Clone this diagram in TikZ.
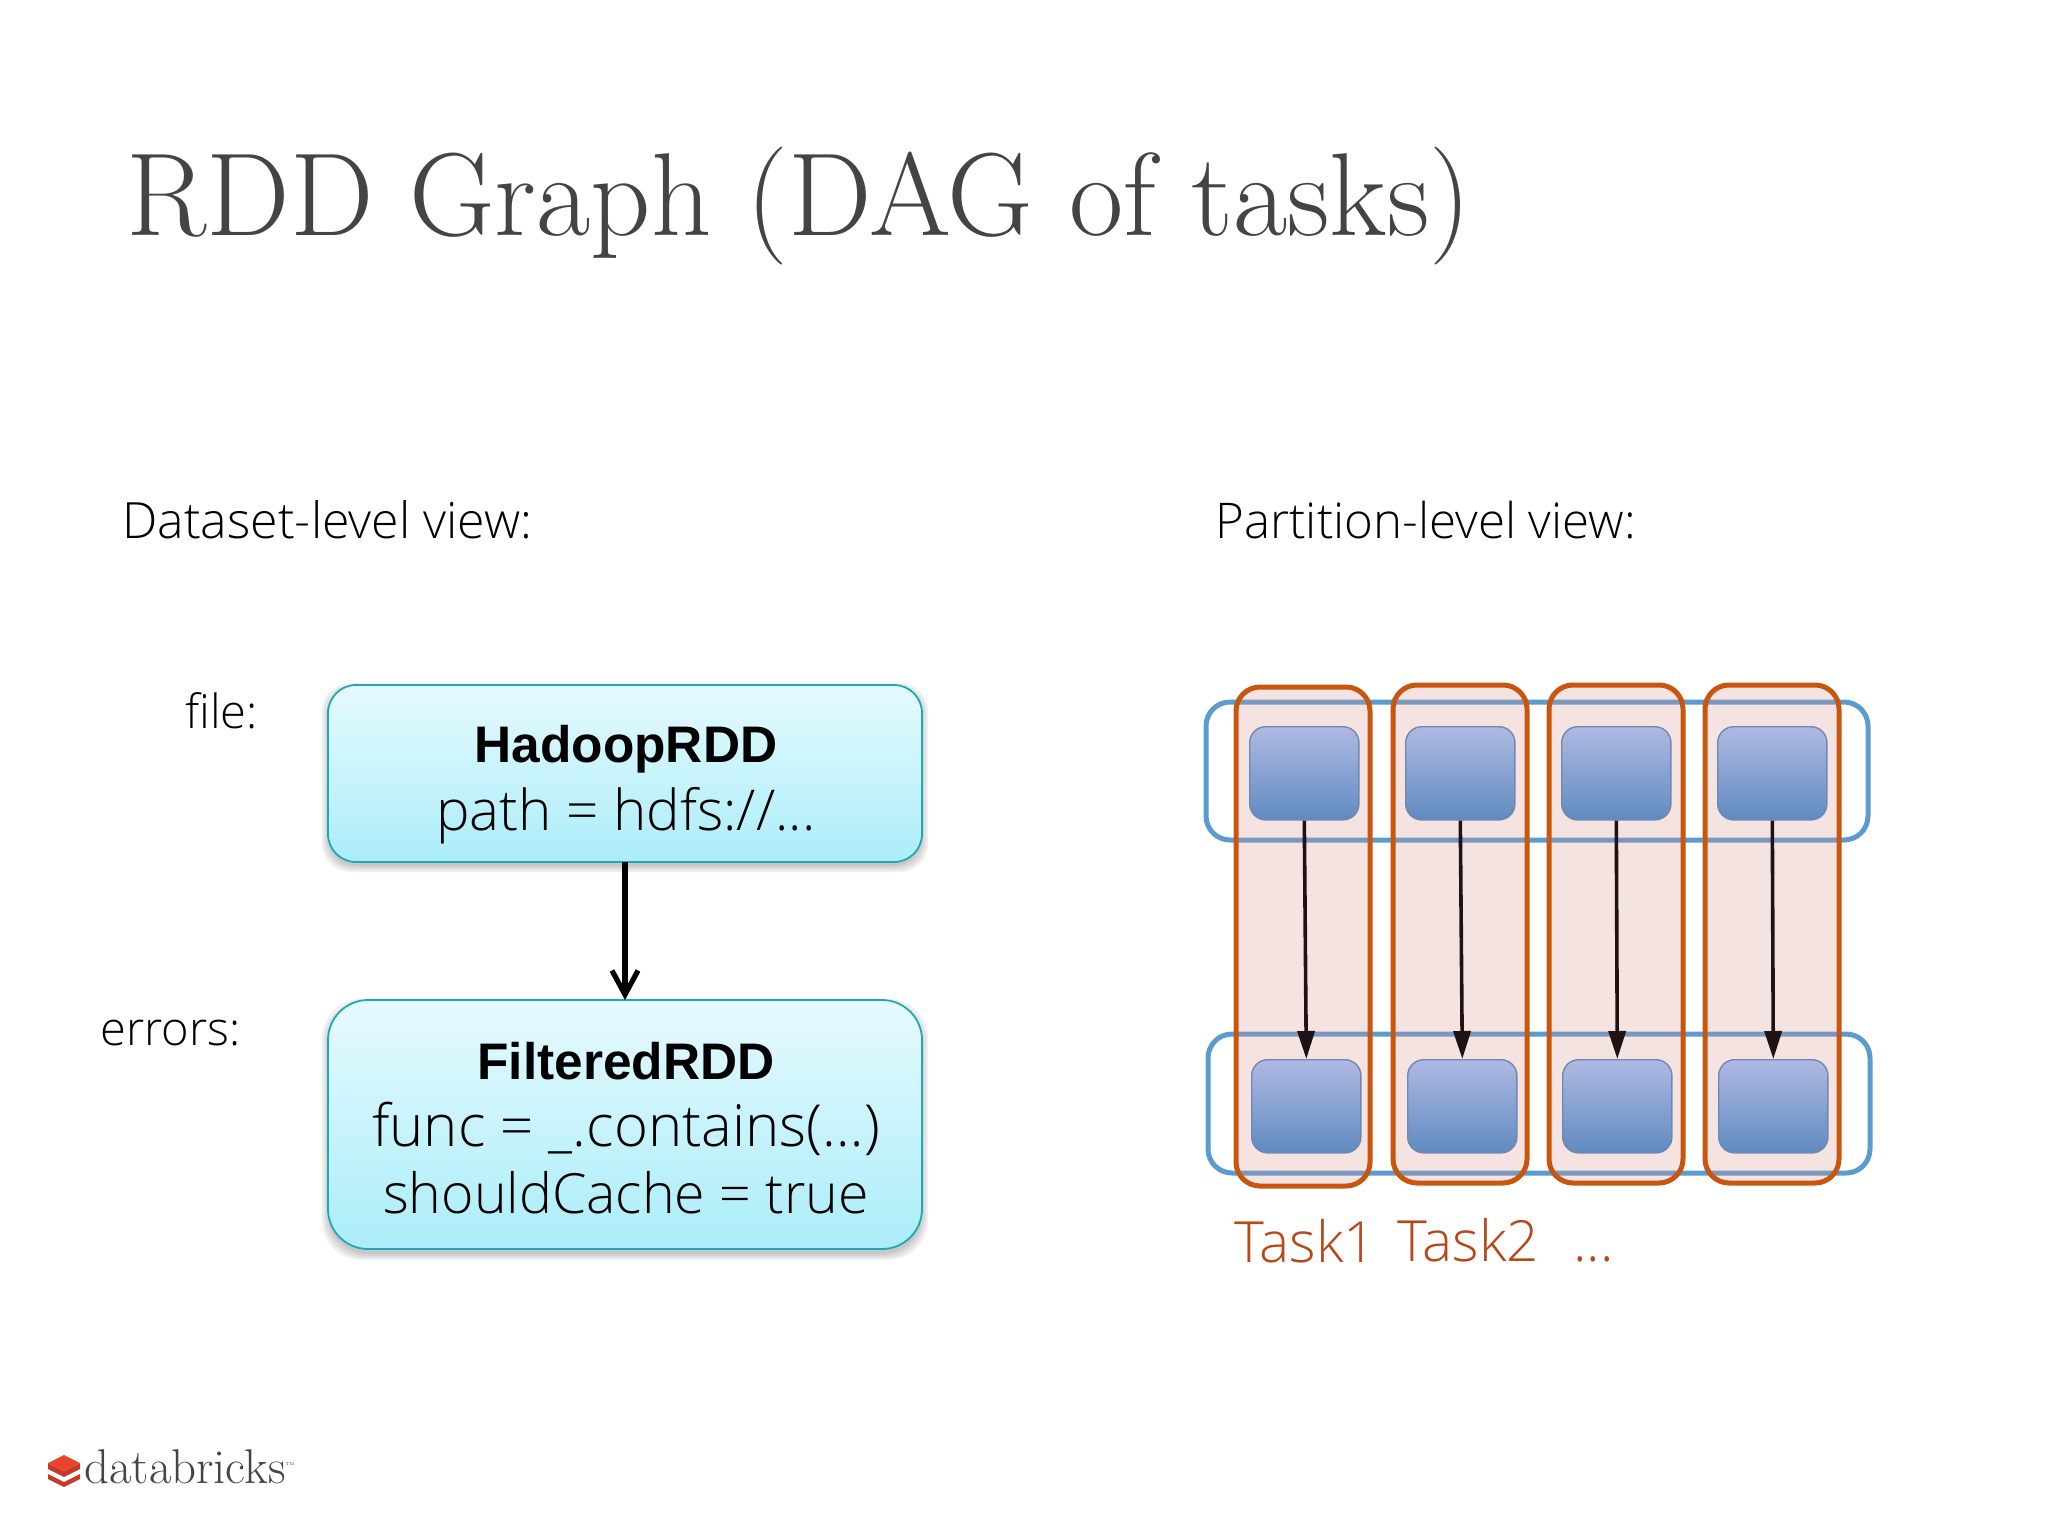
\documentclass[tikz,border=0pt]{standalone}
\usepackage{fontspec}
\setmainfont{Open Sans Light}
\newfontfamily\boldf{Liberation Sans Bold}
\newfontfamily\titlefont{Latin Modern Roman}
\usetikzlibrary{shadows,arrows.meta}
\definecolor{tc}{HTML}{444444}
\definecolor{orangeL}{HTML}{C9560F}
\definecolor{blueL}{HTML}{5B9BD0}
\definecolor{pinkF}{RGB}{215,145,140}
\definecolor{rddB}{HTML}{1FA9B5}
\definecolor{rddT}{HTML}{E6FAFE}
\definecolor{rddL}{HTML}{ABEDF9}
\definecolor{partT}{RGB}{176,185,227}
\definecolor{partB}{RGB}{95,139,193}
\definecolor{partE}{RGB}{112,136,176}
\definecolor{linkC}{RGB}{30,18,20}
\definecolor{taskT}{HTML}{B8481A}
\definecolor{logoR}{HTML}{E8452C}
\tikzset{
 x=0.5pt,y=-0.5pt,
 rdd/.style={draw=rddB,line width=0.9pt,top color=rddT,bottom color=rddL},
 soft/.style={fill=black,fill opacity=.06,draw=none},
 row/.style={draw=blueL,line width=2.5pt,rounded corners=12pt},
 task/.style={draw=orangeL,line width=2.5pt,rounded corners=12pt,fill=pinkF,fill opacity=.25},
 part/.style={draw=partE,line width=.7pt,rounded corners=8pt,top color=partT,bottom color=partB,minimum width=54.6pt,minimum height=46.6pt,anchor=north west,inner sep=0pt},
 link/.style={draw=linkC,line width=1.8pt,-{Stealth[length=14pt,width=8.5pt,inset=0pt]}},
 lab/.style={inner sep=0pt,anchor=base west,font=\fontsize{25}{30}\selectfont},
 slab/.style={inner sep=0pt,anchor=base west,font=\fontsize{23.5}{30}\selectfont},
 boxt/.style={inner sep=0pt,font=\fontsize{28.2}{30}\selectfont},
 boxb/.style={inner sep=0pt,font=\boldf\fontsize{25.7}{30}\selectfont},
 tlab/.style={inner sep=0pt,anchor=base west,text=taskT,font=\fontsize{28.4}{30}\selectfont},
}
\begin{document}
\begin{tikzpicture}
\useasboundingbox (0,0) rectangle (2048,1536);
\node[anchor=base west,inner sep=0pt,text=tc,font=\titlefont\fontsize{59}{70}\selectfont] (title) at (126,235) {RDD Graph (DAG of tasks)};
\node[lab] (lv) at (122,538) {Dataset-level view:};
\node[lab,font=\fontsize{24.6}{30}\selectfont] (rv) at (1215,538) {Partition-level view:};
\node[slab] (fl) at (185,728) {file:};
\node[slab] (el) at (100,1045) {errors:};
% soft shadows
\foreach \d in {0,2,4,6}{
  \path[soft,rounded corners=14pt] (328-\d,689-\d) rectangle (922+\d,866+\d);
  \path[soft,rounded corners=20pt] (328-\d,1005-\d) rectangle (922+\d,1254+\d);
}
% RDD boxes
\path[rdd,rounded corners=14pt] (328,685) rectangle (922,862);
\coordinate (h) at (625,862);
\path[rdd,rounded corners=20pt] (328,1000) rectangle (922,1249);
\coordinate (f) at (625,1000);
\node[boxb] (h1) at (626,749) {HadoopRDD};
\node[boxt] (h2) at (626,816) {path = hdfs://...};
\node[boxb] (f1) at (626,1061) {FilteredRDD};
\node[boxt,font=\fontsize{29}{30}\selectfont] (f2) at (626,1129) {func = \_.contains(…)};
\node[boxt,font=\fontsize{27.7}{30}\selectfont] (f3) at (626,1193) {shouldCache = true};
\draw[line width=2.6pt,-{Straight Barb[length=12pt,width=13pt]}] (h) -- (f);
% rows
\path[row] (1206,702) rectangle (1868,840);
\path[row] (1208,1034) rectangle (1870,1173);
% tasks
\path[task] (1236,687) rectangle (1370,1186);
\path[task] (1393,685) rectangle (1527,1183);
\path[task] (1549,685) rectangle (1683,1183);
\path[task] (1705,685) rectangle (1839,1183);
% partitions
\foreach \i/\x in {1/1249,2/1405,3/1561,4/1717}{
  \node[part] (a\i) at (\x,726) {};
}
\foreach \i/\x in {1/1251,2/1407,3/1562,4/1718}{
  \node[part] (b\i) at (\x,1059) {};
}
\foreach \i in {1,2,3,4}{ \draw[link] (a\i.south) -- (b\i.north); }
\node[tlab] (t1) at (1234,1262) {Task1};
\node[tlab] (t2) at (1397,1261) {Task2};
\node[tlab] (t3) at (1573,1261) {...};
% logo
\fill[logoR!85!black] (48,1474) -- (64,1482) -- (80,1474) -- (80,1479) -- (64,1487) -- (48,1479) -- cycle;
\fill[logoR!85!black] (48,1463) -- (64,1471) -- (80,1463) -- (80,1469) -- (64,1477) -- (48,1469) -- cycle;
\fill[logoR] (48,1463) -- (64,1455) -- (80,1463) -- (64,1471) -- cycle;
\node[anchor=base west,inner sep=0pt,text=tc,font=\titlefont\fontsize{24.4}{26}\selectfont] (logo) at (84,1483) {databricks\raisebox{8pt}{\fontsize{3.5}{4}\selectfont ™}};
\end{tikzpicture}
\end{document}
